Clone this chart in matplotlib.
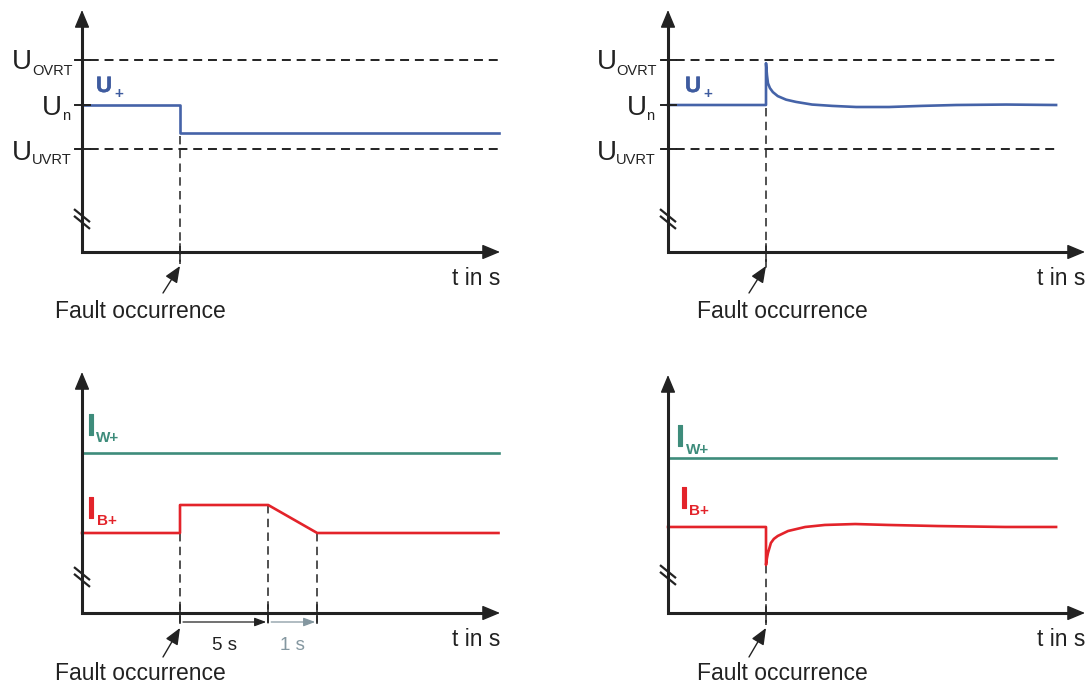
import matplotlib
matplotlib.use("Agg")
import matplotlib.pyplot as plt
from matplotlib import transforms as mtransforms
from matplotlib import patheffects as pe

plt.rcParams["font.family"] = ["Liberation Sans", "DejaVu Sans"]

W, H, DPI = 1091, 683, 100

# ---------------- data (schematic units) ----------------
t_fault = 2.0
u_ovrt, u_n, u_uvrt = 1.1, 1.0, 0.9

# top-left: positive-sequence voltage, step drop
t_u_left = [0.0, 2.0, 2.0, 8.5]
u_left = [1.0, 1.0, 0.937, 0.937]

# top-right: positive-sequence voltage, overshoot and recovery
t_u_right = [0.0, 2.0, 2.0, 2.02, 2.04, 2.08, 2.14, 2.24, 2.41, 2.61, 2.94, 3.35,
             3.84, 4.51, 5.18, 5.88, 6.90, 7.92]
u_right = [1.0, 1.0, 1.094, 1.067, 1.049, 1.038, 1.029, 1.020, 1.012, 1.007, 1.001,
           0.998, 0.9955, 0.9955, 0.998, 1.0, 1.001, 1.0]

# bottom-left: currents
t_iw_left = [0.0, 8.5]
iw_left = [1.0, 1.0]
t_ib_left = [0.0, 2.0, 2.0, 3.8, 4.8, 8.5]
ib_left = [0.5, 0.5, 0.675, 0.675, 0.5, 0.5]
t_steps_left = [2.0, 3.8, 4.8]
step_labels = ["5 s", "1 s"]

# bottom-right: currents
t_iw_right = [0.0, 7.92]
iw_right = [1.0, 1.0]
t_ib_right = [0.0, 2.0, 2.0, 2.02, 2.04, 2.10, 2.16, 2.24, 2.45, 2.80, 3.20, 3.82,
              4.49, 5.51, 6.88, 7.92]
ib_right = [0.555, 0.555, 0.310, 0.355, 0.387, 0.452, 0.478, 0.497, 0.529, 0.555,
            0.568, 0.574, 0.568, 0.561, 0.555, 0.555]

# ---------------- styles ----------------
BLACK = "#222222"
BLUE = "#4563A8"
BLUE_TXT = "#3E5B9F"
GREEN = "#3E8C7B"
RED = "#E3232A"
GRAYBLUE = "#8497A0"

fig = plt.figure(figsize=(W / DPI, H / DPI), dpi=DPI)
fig.patch.set_facecolor("white")


def make_panel(ox, oy, sx, sy, y0, xmax, ytip_px):
    ymax = y0 + (oy - ytip_px) / sy
    ax = fig.add_axes([ox / W, 1 - oy / H, xmax * sx / W, (oy - ytip_px) / H])
    ax.set_xlim(0, xmax)
    ax.set_ylim(y0, ymax)
    ax.axis("off")
    ax._sx, ax._sy, ax._y0, ax._xmax, ax._ymax = sx, sy, y0, xmax, ymax
    ax.plot([0, 0, xmax - 14 / sx], [ymax - 14 / sy, y0, y0], color=BLACK, lw=2.2,
            solid_joinstyle="miter", solid_capstyle="butt", clip_on=False, zorder=5)
    head = dict(arrowstyle="-|>,head_length=11,head_width=4.6", mutation_scale=1,
                lw=1.0, color=BLACK, shrinkA=0, shrinkB=0)
    ax.annotate("", xy=(xmax, y0), xytext=(xmax - 20 / sx, y0), arrowprops=head,
                annotation_clip=False, zorder=6)
    ax.annotate("", xy=(0, ymax), xytext=(0, ymax - 20 / sy), arrowprops=head,
                annotation_clip=False, zorder=6)
    return ax


def break_mark(ax, up_px):
    for c in (up_px + 3.4, up_px - 3.4):
        ax.plot([-8 / ax._sx, 8 / ax._sx],
                [ax._y0 + (c + 6.5) / ax._sy, ax._y0 + (c - 6.5) / ax._sy],
                color=BLACK, lw=1.6, clip_on=False, zorder=7, solid_capstyle="butt")


def vdash(ax, t, ytop, below_px=12):
    ybot = ax._y0 - below_px / ax._sy
    ax.plot([t, t], [ytop, ybot], color=BLACK, lw=1.1, ls=(0, (5.5, 3.5)),
            clip_on=False, zorder=3)
    ax.plot([t, t], [ax._y0 + 8 / ax._sy, ax._y0 - 9 / ax._sy], color=BLACK, lw=1.1,
            clip_on=False, zorder=3)


def txt(ax, s, xy, off, size, color=BLACK, weight="normal", ha="left", va="baseline",
        stroke=0.0):
    t = ax.annotate(s, xy=xy, xytext=off, textcoords="offset pixels", fontsize=size,
                    color=color, fontweight=weight, ha=ha, va=va,
                    annotation_clip=False, zorder=8)
    if stroke:
        t.set_path_effects([pe.withStroke(linewidth=stroke, foreground=color)])
    return t


def fault_arrow(ax, tail_dx, text_dx, tip_below=14, tail_below=41, text_below=66):
    xy_tr = mtransforms.offset_copy(ax.transData, fig=fig, x=0, y=-tip_below, units="dots")
    ax.annotate("", xy=(t_fault, ax._y0), xycoords=xy_tr,
                xytext=(tail_dx, -(tail_below - tip_below)), textcoords="offset pixels",
                arrowprops=dict(arrowstyle="-|>,head_length=10,head_width=4.2",
                                mutation_scale=1, lw=1.0, color=BLACK,
                                shrinkA=0, shrinkB=0),
                annotation_clip=False)
    txt(ax, "Fault occurrence", (t_fault, ax._y0), (text_dx, -text_below), 16.5, ha="center")


def t_label(ax, below=33):
    txt(ax, "t in s", (ax._xmax, ax._y0), (0, -below), 16.5, ha="right")


def u_panel(ax, t, u, line_end, dx_main=-70, dx_sub=-50, dx_n=-20):
    for lvl in (u_ovrt, u_uvrt):
        ax.plot([-7 / ax._sx, line_end], [lvl, lvl], color=BLACK, lw=1.4,
                ls=(0, (4.6, 3.0)), clip_on=False, zorder=2)
    for lvl in (u_ovrt, u_n, u_uvrt):
        ax.plot([-7 / ax._sx, 8 / ax._sx], [lvl, lvl], color=BLACK, lw=1.4,
                clip_on=False, zorder=6)
    ax.plot(t, u, color=BLUE, lw=1.9, clip_on=False, zorder=4)
    txt(ax, "U", (0, u_ovrt), (dx_main, -9), 20)
    txt(ax, "OVRT", (0, u_ovrt), (dx_sub, -15), 10.5)
    txt(ax, "U", (0, u_n), (dx_main + 30, -10), 20)
    txt(ax, "n", (0, u_n), (dx_n, -15), 10.5)
    txt(ax, "U", (0, u_uvrt), (dx_main, -10), 20)
    txt(ax, "UVRT", (0, u_uvrt), (dx_sub, -15), 10.5)


def u_plus(ax, dx):
    txt(ax, "U", (0, u_n), (dx, 13), 16, color=BLUE_TXT, weight="bold", stroke=0.3)
    txt(ax, "+", (0, u_n), (dx + 18, 11), 11, color=BLUE_TXT, weight="bold",
        va="center")


def i_label(ax, lvl, sub, color, dx, dy, sdx, sdy):
    txt(ax, "I", (0, lvl), (dx, dy), 22, color=color, weight="bold", stroke=0.8)
    txt(ax, sub, (0, lvl), (sdx, sdy), 11, color=color, weight="bold")


# ---------------- top-left ----------------
SX = 49.0
ax1 = make_panel(82, 252, SX, 445, 1 - (252 - 105) / 445, (500 - 82) / SX, 10)
u_panel(ax1, t_u_left, u_left, 8.5)
u_plus(ax1, 14)
vdash(ax1, t_fault, u_left[-1] - 3 / 445)
break_mark(ax1, 33)
fault_arrow(ax1, -17, -40)
t_label(ax1)

# ---------------- top-right ----------------
ax2 = make_panel(668, 252, SX, 445, 1 - (252 - 105) / 445, (1085 - 668) / SX, 10)
u_panel(ax2, t_u_right, u_right, 7.92, dx_main=-71, dx_sub=-52, dx_n=-22)
u_plus(ax2, 17)
vdash(ax2, t_fault, u_n - 3 / 445, below_px=18)
break_mark(ax2, 33)
fault_arrow(ax2, -17, 16)
t_label(ax2)

# ---------------- bottom-left ----------------
ax3 = make_panel(82, 613, SX, 160, 0.0, (500 - 82) / SX, 372)
ax3.plot(t_iw_left, iw_left, color=GREEN, lw=1.9, clip_on=False, zorder=4)
ax3.plot(t_ib_left, ib_left, color=RED, lw=1.9, clip_on=False, zorder=4)
i_label(ax3, iw_left[0], "W+", GREEN, 5, 18, 14, 11)
i_label(ax3, ib_left[0], "B+", RED, 5, 15, 15, 8)
for t in t_steps_left:
    lvl = max(v for tt, v in zip(t_ib_left, ib_left) if tt == t)
    vdash(ax3, t, lvl if t != 2.0 else ib_left[0])
break_mark(ax3, 36)
for (ta, tb), lab, col in zip([(t_steps_left[0], t_steps_left[1]),
                               (t_steps_left[1], t_steps_left[2])],
                              step_labels, [BLACK, GRAYBLUE]):
    ya = -9 / 160
    ax3.annotate("", xy=(tb - 2 / SX, ya), xytext=(ta + 3 / SX, ya),
                 arrowprops=dict(arrowstyle="-|>,head_length=7,head_width=2.6",
                                 mutation_scale=1, lw=0.9, color=col,
                                 shrinkA=0, shrinkB=0),
                 annotation_clip=False)
    txt(ax3, lab, ((ta + tb) / 2, 0), (0, -37), 13.5, color=col, ha="center")
fault_arrow(ax3, -17, -40, tip_below=15, tail_below=44, text_below=67)
t_label(ax3)

# ---------------- bottom-right ----------------
ax4 = make_panel(668, 613, SX, 155, 0.0, (1085 - 668) / SX, 375)
ax4.plot(t_iw_right, iw_right, color=GREEN, lw=1.9, clip_on=False, zorder=4)
ax4.plot(t_ib_right, ib_right, color=RED, lw=1.9, clip_on=False, zorder=4)
i_label(ax4, iw_right[0], "W+", GREEN, 8, 12, 18, 4)
i_label(ax4, ib_right[0], "B+", RED, 12, 19, 21, 12)
vdash(ax4, t_fault, min(ib_right))
break_mark(ax4, 38)
fault_arrow(ax4, -17, 16, tip_below=15, tail_below=44, text_below=67)
t_label(ax4)

fig.savefig("out.png", dpi=DPI, facecolor="white")
